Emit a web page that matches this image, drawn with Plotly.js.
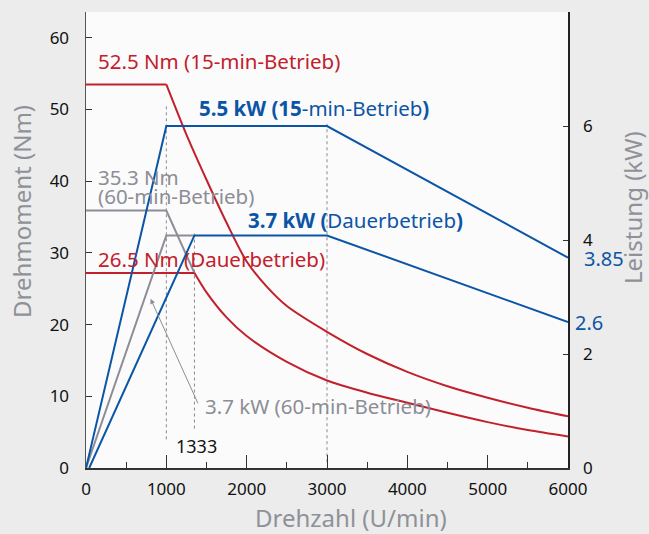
<!DOCTYPE html>
<html><head><meta charset="utf-8">
<script src="https://cdn.plot.ly/plotly-3.0.1.min.js"></script>
<style>html,body{margin:0;padding:0;background:#ebeceb;}#chart{width:649px;height:534px;}</style>
</head><body><div id="chart"></div>
<script>
// Torque curves (Nm, left axis)
const torque15Rpm = [0, 1000, 1250, 1500, 1750, 2000, 2250, 2500, 3000, 3500, 4000, 4500, 5000, 5500, 6000];
const torque15Nm  = [53.5, 53.5, 46.5, 40.2, 34.2, 28.8, 25.3, 22.6, 19.0, 15.9, 13.4, 11.4, 9.8, 8.4, 7.2];
const torqueDauerRpm = [0, 1350, 1500, 1750, 2000, 2500, 3000, 3500, 4000, 4500, 5000, 5500, 6000];
const torqueDauerNm  = [27.2, 27.2, 24.5, 21.0, 18.4, 14.8, 12.2, 10.5, 9.1, 7.7, 6.4, 5.3, 4.4];
const torque60Rpm = [0, 1000, 1350];
const torque60Nm  = [35.9, 35.9, 27.2];
// Power curves (kW, right axis)
const power15Rpm = [0, 1000, 3000, 6000];
const power15kW  = [0, 6.0, 6.0, 3.69];
const powerDauerRpm = [40, 1350, 3000, 6000];
const powerDauerkW  = [0, 4.08, 4.08, 2.56];
const power60Rpm = [0, 1000, 1350];
const power60kW  = [0, 4.08, 4.08];
// Reference marks
const markRpm = [1000, 1350, 3000];
const markTop = [50.8, 32.8, 48.0];   // Nm
const markBottom = [4.0, 5.5, 0.8];   // Nm
const xTicks = [0, 1000, 2000, 3000, 4000, 5000, 6000];
const yTicksLeft = [0, 10, 20, 30, 40, 50, 60];
const yTicksRight = [0, 2, 4, 6];

const RED = '#c2202b', BLUE = '#0b55a6', GRAY = '#8c8d96', TITLE = '#8f9199';
const F = 'Noto Sans, Open Sans, sans-serif';

const traces = [];
markRpm.forEach((r, i) => {
  traces.push({x: [r, r], y: [markBottom[i], markTop[i]], mode: 'lines', yaxis: 'y',
    line: {color: '#8a8a8a', width: 1, dash: 'dot'}, hoverinfo: 'skip', showlegend: false});
});
traces.push({x: torque60Rpm, y: torque60Nm, mode: 'lines', line: {color: GRAY, width: 2}, showlegend: false});
traces.push({x: power60Rpm, y: power60kW, yaxis: 'y2', mode: 'lines', line: {color: GRAY, width: 2}, showlegend: false});
// flat parts (linear) and falling parts (smoothed)
traces.push({x: torque15Rpm.slice(0, 2), y: torque15Nm.slice(0, 2), mode: 'lines', line: {color: RED, width: 2}, showlegend: false});
traces.push({x: torque15Rpm.slice(1), y: torque15Nm.slice(1), mode: 'lines', line: {color: RED, width: 2, shape: 'spline', smoothing: 0.8}, showlegend: false});
traces.push({x: torqueDauerRpm.slice(0, 2), y: torqueDauerNm.slice(0, 2), mode: 'lines', line: {color: RED, width: 2}, showlegend: false});
traces.push({x: torqueDauerRpm.slice(1), y: torqueDauerNm.slice(1), mode: 'lines', line: {color: RED, width: 2, shape: 'spline', smoothing: 0.8}, showlegend: false});
traces.push({x: power15Rpm, y: power15kW, yaxis: 'y2', mode: 'lines', line: {color: BLUE, width: 2}, showlegend: false});
traces.push({x: powerDauerRpm, y: powerDauerkW, yaxis: 'y2', mode: 'lines', line: {color: BLUE, width: 2}, showlegend: false});

function lab(text, x, y, color, size, extra) {
  return Object.assign({text: text, x: x, y: y, xref: 'x', yref: 'y', showarrow: false,
    xanchor: 'left', yanchor: 'middle', font: {family: F, size: size || 20.5, color: color}}, extra || {});
}

const annotations = [
  lab('52.5 Nm (15-min-Betrieb)', 129, 56.7, RED),
  lab('<b>5.5 kW (15</b>-min-Betrieb<b>)</b>', 1379, 50.2, BLUE),
  lab('35.3 Nm', 129, 40.6, GRAY),
  lab('(60-min-Betrieb)', 129, 37.9, GRAY),
  lab('<b>3.7 kW (</b>Dauerbetrieb<b>)</b>', 1992, 34.6, BLUE),
  lab('26.5 Nm (Dauerbetrieb)', 129, 29.2, RED),
  lab('3.7 kW (60-min-Betrieb)', 1454, 8.6, GRAY),
  lab('1333', 1379, 3.1, '#111', 18, {xanchor: 'center'}),
  {text: '3.85', xref: 'paper', yref: 'paper', x: 1.029, y: (468-258)/456, xanchor: 'left', yanchor: 'middle',
   showarrow: false, font: {family: F, size: 20, color: BLUE}},
  {text: '2.6', xref: 'paper', yref: 'paper', x: 1.011, y: (468-322.5)/456, xanchor: 'left', yanchor: 'middle',
   showarrow: false, font: {family: F, size: 20, color: BLUE}},
  {text: '', x: 804, y: 23.6, xref: 'x', yref: 'y', showarrow: true, ax: 48, ay: 106,
   arrowhead: 2, arrowsize: 1, arrowwidth: 1, arrowcolor: GRAY},
  {text: 'Drehmoment (Nm)', xref: 'paper', yref: 'paper', x: (21-86)/482, y: (468-212)/456, textangle: -90,
   showarrow: false, xanchor: 'center', yanchor: 'middle', font: {family: F, size: 24, color: TITLE}},
  {text: 'Leistung (kW)', xref: 'paper', yref: 'paper', x: (632-86)/482, y: (468-208)/456, textangle: -90,
   showarrow: false, xanchor: 'center', yanchor: 'middle', font: {family: F, size: 24, color: TITLE}},
  {text: 'Drehzahl (U/min)', xref: 'paper', yref: 'paper', x: (351-86)/482, y: (468-517)/456,
   showarrow: false, xanchor: 'center', yanchor: 'middle', font: {family: F, size: 24, color: TITLE}}
];

const layout = {
  width: 649, height: 534,
  margin: {l: 86, r: 81, t: 12, b: 66},
  paper_bgcolor: '#ebeceb', plot_bgcolor: '#fbfbfb',
  showlegend: false,
  font: {family: F, size: 17, color: '#111'},
  xaxis: {range: [0, 6000], tickvals: xTicks, ticktext: xTicks.map(String), ticks: 'inside', ticklen: 13,
    tickcolor: '#333', showline: true, linecolor: '#333', linewidth: 1.5, showgrid: false, zeroline: false,
    minor: {dtick: 500, tick0: 0, ticks: 'inside', ticklen: 6, tickcolor: '#333'},
    ticklabelstandoff: 5, tickfont: {family: F, size: 17, color: '#111'}},
  yaxis: {range: [0, 63.6], tickvals: yTicksLeft, ticks: 'inside', ticklen: 6, tickcolor: '#333',
    showline: true, linecolor: '#555', linewidth: 1.5, showgrid: false, zeroline: false,
    ticklabelstandoff: 12, tickfont: {family: F, size: 17, color: '#111'}},
  yaxis2: {range: [0, 8], overlaying: 'y', side: 'right', tickvals: yTicksRight, ticks: 'inside', ticklen: 5,
    tickcolor: '#333', showline: true, linecolor: '#222', linewidth: 1.5, showgrid: false, zeroline: false,
    ticklabelstandoff: 10, tickfont: {family: F, size: 17, color: '#111'}},
  annotations: annotations
};

Plotly.newPlot('chart', traces, layout, {staticPlot: true, displayModeBar: false});
</script></body></html>
